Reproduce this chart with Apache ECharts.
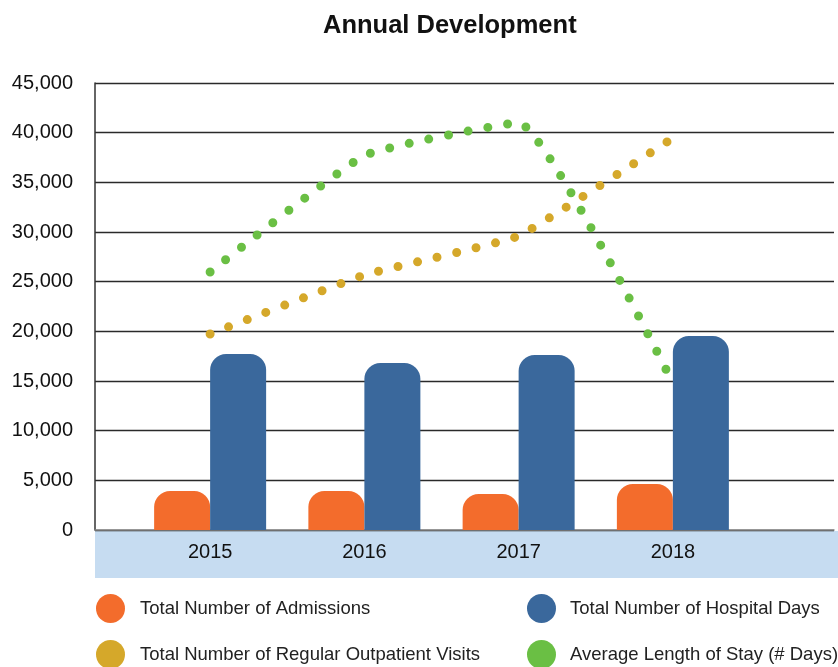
<!DOCTYPE html>
<html>
<head>
<meta charset="utf-8">
<title>Annual Development</title>
<script src="https://cdn.jsdelivr.net/npm/echarts@6/dist/echarts.min.js"></script>
<style>
    html, body { margin: 0; padding: 0; background: #fff; }
    #chart { width: 838px; height: 667px; }
</style>
</head>
<body>
<div id="chart"></div>
<script>
var years = ['2015', '2016', '2017', '2018'];
var admissions = [3920, 3920, 3620, 4630];
var hospitalDays = [17720, 16810, 17620, 19530];
var outpatientVisits = [19730, 25670, 29600, 39460];
var avgStay = [25970, 37700, 41000, 14800];
var yTicks = {min: 0, max: 45000, interval: 5000};

var font = 'Liberation Sans, Arial, sans-serif';

var myChart = echarts.init(document.getElementById('chart'));

var dotted = function (color) {
    return {width: 9, type: [0, 20], cap: 'round', color: color};
};

// one legend per entry, laid out in two columns
var legendItem = function (name, left, top, gap) {
    return {
        left: left,
        top: top,
        icon: 'circle',
        itemWidth: 29,
        itemHeight: 29,
        itemStyle: {borderWidth: 0},
        textStyle: {fontFamily: font, fontSize: 18.5, color: '#222', padding: [0, 0, 0, gap]},
        data: [name]
    };
};

var option = {
    animation: false,
    title: {
        text: 'Annual Development',
        left: 318,
        top: 8,
        textStyle: {
            fontFamily: font,
            fontWeight: 'bold',
            fontSize: 25.5,
            color: '#111'
        }
    },
    graphic: [{
        type: 'rect',
        shape: {x: 95, y: 531, width: 743, height: 47},
        style: {fill: '#c6dcf1'},
        z: -1
    }],
    legend: [
        legendItem('Total Number of Admissions', 91, 589, 10),
        legendItem('Total Number of Regular Outpatient Visits', 91, 635, 10),
        legendItem('Total Number of Hospital Days', 522, 589, 9),
        legendItem('Average Length of Stay (# Days)', 522, 635, 9)
    ],
    grid: [
        // background grid: gridlines and y labels across the full width
        {left: 95, right: 4, top: 83, bottom: 137},
        // bars and lines
        {left: 133, right: 88, top: 83, bottom: 137}
    ],
    xAxis: [{
        gridIndex: 0,
        type: 'category',
        data: [''],
        axisLine: {show: true, lineStyle: {color: '#888', width: 1.5}},
        axisTick: {show: false},
        axisLabel: {show: false}
    }, {
        gridIndex: 1,
        type: 'category',
        data: years,
        axisLine: {show: false},
        axisTick: {show: false},
        axisLabel: {fontFamily: font, fontSize: 20, color: '#111', margin: 12}
    }],
    yAxis: [{
        gridIndex: 0,
        type: 'value',
        min: yTicks.min,
        max: yTicks.max,
        interval: yTicks.interval,
        axisLine: {show: true, lineStyle: {color: '#333', width: 1.5}},
        axisTick: {show: false},
        splitLine: {lineStyle: {color: '#2a2a2a', width: 1.3}},
        axisLabel: {
            fontFamily: font,
            fontSize: 20,
            color: '#111',
            margin: 22,
            formatter: function (v) {
                return v.toLocaleString('en-US');
            }
        }
    }, {
        gridIndex: 1,
        type: 'value',
        min: yTicks.min,
        max: yTicks.max,
        interval: yTicks.interval,
        show: false,
        splitLine: {show: false}
    }],
    series: [{
        name: 'Total Number of Admissions',
        type: 'bar',
        xAxisIndex: 1,
        yAxisIndex: 1,
        barWidth: 56,
        barGap: '0%',
        color: '#f36c2c',
        itemStyle: {borderRadius: [16, 16, 0, 0]},
        data: admissions
    }, {
        name: 'Total Number of Hospital Days',
        type: 'bar',
        xAxisIndex: 1,
        yAxisIndex: 1,
        barWidth: 56,
        barGap: '0%',
        color: '#3a689c',
        itemStyle: {borderRadius: [16, 16, 0, 0]},
        data: hospitalDays
    }, {
        name: 'Total Number of Regular Outpatient Visits',
        type: 'line',
        xAxisIndex: 1,
        yAxisIndex: 1,
        smooth: 0.1,
        symbol: 'none',
        color: '#d5a82a',
        lineStyle: dotted('#d5a82a'),
        z: 3,
        data: outpatientVisits
    }, {
        name: 'Average Length of Stay (# Days)',
        type: 'line',
        xAxisIndex: 1,
        yAxisIndex: 1,
        smooth: 0.12,
        symbol: 'none',
        color: '#6abf44',
        lineStyle: dotted('#6abf44'),
        z: 3,
        data: avgStay
    }]
};

myChart.setOption(option);
</script>
</body>
</html>
